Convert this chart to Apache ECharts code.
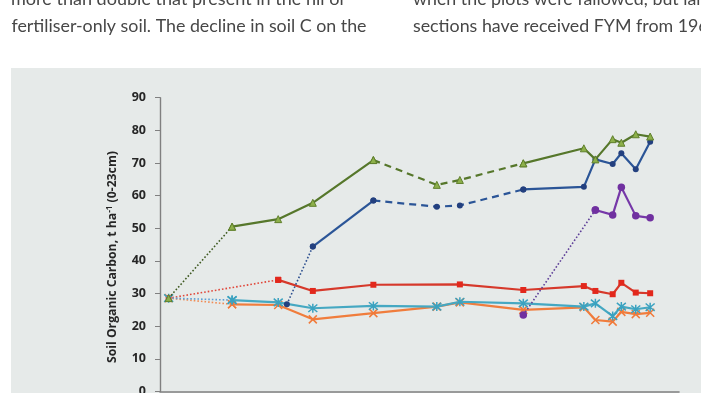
<!DOCTYPE html>
<html><head><meta charset="utf-8">
<script src="https://cdn.jsdelivr.net/npm/echarts@6/dist/echarts.min.js"></script>
<style>html,body{margin:0;padding:0;background:#fff;overflow:hidden}#c{width:701px;height:393px}</style>
</head><body><div id="c"></div>
<script>
// ---- data ----
const years = [1843, 1865, 1881, 1884, 1893, 1914, 1936, 1944, 1966, 1987, 1991, 1997, 2000, 2005, 2010];
const seriesGreen  = [28.6, 50.5, 52.8, null, 57.8, 70.9, 63.3, 64.8, 69.9, 74.5, 71.1, 77.3, 76.2, 78.8, 78.1];
const seriesBlue   = [null, null, null, 26.7, 44.4, 58.5, 56.6, 57.0, 61.9, 62.7, 71.1, 69.7, 73.0, 68.1, 76.5];
const seriesPurple = [null, null, null, null, null, null, null, null, 23.4, null, 55.6, 54.1, 62.6, 53.8, 53.2];
const seriesRed    = [28.6, null, 34.2, null, 30.8, 32.7, null, 32.8, 31.1, 32.3, 30.8, 29.8, 33.3, 30.3, 30.1];
const seriesCyan   = [28.6, 28.0, 27.3, null, 25.5, 26.2, 26.0, 27.5, 27.0, 26.0, 27.0, 23.1, 26.0, 25.2, 25.8];
const seriesOrange = [28.6, 26.7, 26.5, null, 22.1, 24.0, 26.0, 27.3, 25.0, 25.8, 21.9, 21.4, 24.4, 23.7, 24.1];
const yTickLabels = ['0','10','20','30','40','50','60','70','80','90'];
const yAxisTitle = 'Soil Organic Carbon, t ha';
const textLeft = ['more than double that present in the nil or', 'fertiliser-only soil. The decline in soil C on the'];
const textRight = ['when the plots were fallowed, but large', 'sections have received FYM from 1968'];

// ---- segment styles (year ranges) ----
const segGreen  = [['dot',1843,1865],['solid',1865,1914],['dash',1914,1966],['solid',1966,2010]];
const segBlue   = [['dot',1884,1893],['solid',1893,1914],['dash',1914,1966],['solid',1966,2010]];
const segPurple = [['dot',1966,1991],['solid',1991,2010]];
const segRed    = [['dot',1843,1881],['solid',1881,2010]];
const segCyan   = [['dot',1843,1865],['solid',1865,2010]];
const segOrange = [['dot',1843,1865],['solid',1865,2010]];

const ASTER = 'path://M0 0L10 10M10 0L0 10M5 -1L5 11';
const XMARK = 'path://M0 0L10 10M10 0L0 10';

function pts(vals, a, b) {
  return years.map((y, i) => [y, vals[i]]).filter(p => p[1] != null && p[0] >= a && p[0] <= b);
}
function build(vals, segs, st) {
  return segs.map(([kind, a, b]) => ({
    type: 'line',
    data: pts(vals, a, b),
    z: st.z,
    symbol: st.symbol,
    symbolSize: st.size,
    showSymbol: true,
    animation: false,
    silent: true,
    itemStyle: st.item,
    lineStyle: kind === 'solid' ? {color: st.line, width: 2.2}
             : kind === 'dash' ? {color: st.line, width: 2.2, type: [7, 5]}
             : {color: st.dot, width: 1.6, type: [1.6, 2]}
  }));
}

const series = [].concat(
  build(seriesRed, segRed, {z: 3, symbol: 'rect', size: 6, line: '#d6392b', dot: '#e0473a', item: {color: '#e2281c'}}),
  build(seriesOrange, segOrange, {z: 4, symbol: XMARK, size: 8, line: '#f07d3d', dot: '#f08c55', item: {color: 'none', borderColor: '#f07a3a', borderWidth: 1.5}}),
  build(seriesCyan, segCyan, {z: 5, symbol: ASTER, size: 9, line: '#45a8c2', dot: '#5a9fd6', item: {color: 'none', borderColor: '#3aa2c0', borderWidth: 1.5}}),
  build(seriesPurple, segPurple, {z: 6, symbol: 'circle', size: 7.5, line: '#7638a8', dot: '#5e3f98', item: {color: '#7030a0'}}),
  build(seriesBlue, segBlue, {z: 7, symbol: 'circle', size: 6, line: '#2b5597', dot: '#2c4f8f', item: {color: '#23407f'}}),
  build(seriesGreen, segGreen, {z: 8, symbol: 'triangle', size: 7, line: '#56772b', dot: '#3f5a22', item: {color: '#8db04a', borderColor: '#5f7f2c', borderWidth: 1}})
);

// text width fitting
const mc = document.createElement('canvas').getContext('2d');
function fitScale(txt, font, target) { mc.font = font; return target / mc.measureText(txt).width; }
const bodyFont = '17px Lato';
const txtColor = '#474747';
const sL1 = fitScale(textLeft[0], bodyFont, 335);
const sL2 = fitScale(textLeft[1], bodyFont, 355);
const sR = sL2;
const titleFont = 'bold 12px "Open Sans"';
mc.font = titleFont; const wMain = mc.measureText(yAxisTitle).width + mc.measureText(' (0-23cm)').width;
mc.font = 'bold 8px "Open Sans"'; const wSup = mc.measureText('-1').width;
const sTitle = 212 / (wMain + wSup);

function bodyText(x, y, s, txt) {
  return {type: 'text', x: x, y: y, scaleX: s, style: {text: txt, font: bodyFont, fill: txtColor, verticalAlign: 'middle', align: 'left'}};
}

const chart = echarts.init(document.getElementById('c'), null, {renderer: 'canvas'});
chart.setOption({
  animation: false,
  backgroundColor: '#ffffff',
  graphic: [
    {type: 'rect', z: -10, shape: {x: 11, y: 68, width: 700, height: 330}, style: {fill: '#e6eae9'}},
    bodyText(11, 0, sL1, textLeft[0]),
    bodyText(11.5, 26.5, sL2, textLeft[1]),
    bodyText(413, 0, sR, textRight[0]),
    bodyText(413, 26.5, sR, textRight[1]),
    {type: 'text', x: 113, y: 257, rotation: Math.PI / 2, scaleX: sTitle,
     style: {text: '{m|' + yAxisTitle + '}{s|-1}{m| (0-23cm)}', align: 'center', verticalAlign: 'middle',
       rich: {m: {font: titleFont, fill: '#262626'}, s: {font: 'bold 8px "Open Sans"', fill: '#262626', padding: [0, 0, 7, 0]}}}}
  ],
  grid: {left: 160, right: 22, top: 97.7, bottom: 1.5, outerBoundsMode: 'none', containLabel: false},
  xAxis: {type: 'value', min: 1840, max: 2020,
    axisLine: {show: true, lineStyle: {color: '#808080', width: 1.6}},
    axisTick: {show: false}, axisLabel: {show: false}, splitLine: {show: false}},
  yAxis: {type: 'value', min: 0, max: 90, interval: 10,
    axisLine: {show: true, lineStyle: {color: '#808080', width: 1.4}},
    axisTick: {show: true, inside: false, length: 5, lineStyle: {color: '#808080'}},
    axisLabel: {margin: 14, fontFamily: 'Open Sans', fontWeight: 'bold', fontSize: 12.5, color: '#262626',
      formatter: (v) => yTickLabels[Math.round(v / 10)]},
    splitLine: {show: false}},
  series: series
});
</script></body></html>
